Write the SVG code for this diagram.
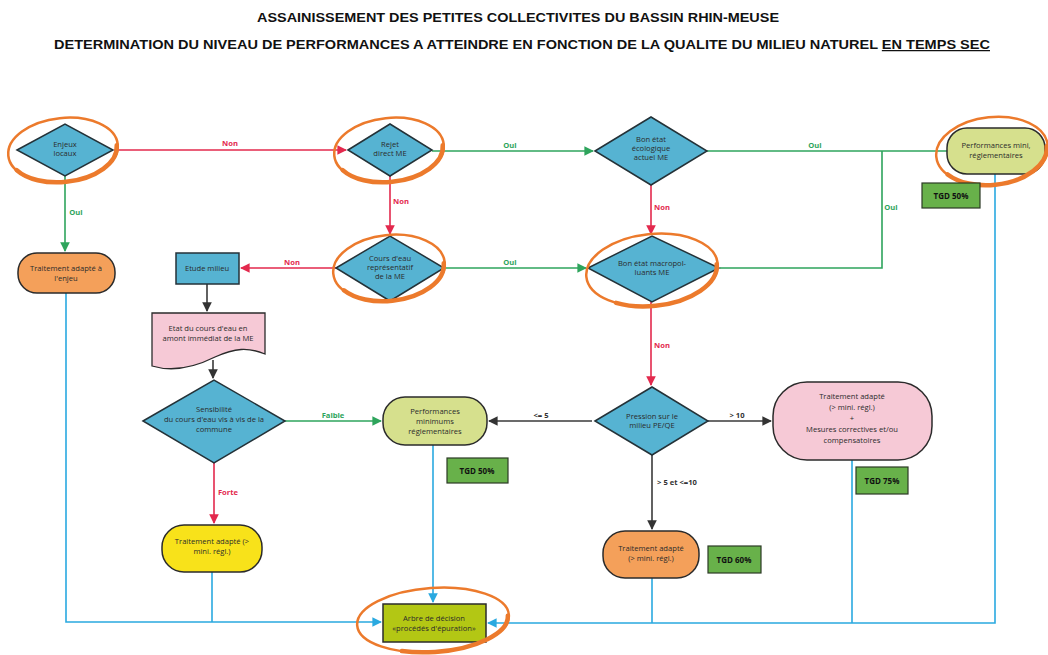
<svg xmlns="http://www.w3.org/2000/svg" width="1048" height="655" viewBox="0 0 1048 655">
<style>
.t{font-family:"Open Sans","Liberation Sans",sans-serif;font-size:7.6px;fill:#2b2b2b;text-anchor:middle}
.title{font-family:"Liberation Sans",Arial,sans-serif;font-weight:bold;font-size:12.5px;fill:#111;text-anchor:middle}
.lb{font-family:"Open Sans","Liberation Sans",sans-serif;font-size:7.6px;font-weight:bold;text-anchor:middle}
.dia{fill:#56b3d2;stroke:#243238;stroke-width:1.5}
.sw{fill:none;stroke:#ec7a2c;stroke-linecap:round;stroke-width:2.5}
.swt{fill:none;stroke:#ec7a2c;stroke-linecap:round;stroke-width:4.5;stroke-dasharray:120 400}
.red{stroke:#e3294d;stroke-width:1.6;fill:none}
.grn{stroke:#2ea45c;stroke-width:1.6;fill:none}
.gry{stroke:#3a3a3a;stroke-width:1.6;fill:none}
.blu{stroke:#2aa9e0;stroke-width:1.6;fill:none}
.tgd{fill:#68b14a;stroke:#2c3a25;stroke-width:1.2}
.tg{font-family:"Open Sans","Liberation Sans",sans-serif;font-size:8px;font-weight:bold;fill:#111;text-anchor:middle}
</style>
<defs>
<marker id="ar" viewBox="0 0 10 10" refX="9" refY="5" markerWidth="6" markerHeight="6" orient="auto"><path d="M0,0L10,5L0,10z" fill="#e3294d"/></marker>
<marker id="ag" viewBox="0 0 10 10" refX="9" refY="5" markerWidth="6" markerHeight="6" orient="auto"><path d="M0,0L10,5L0,10z" fill="#2ea45c"/></marker>
<marker id="ak" viewBox="0 0 10 10" refX="9" refY="5" markerWidth="6" markerHeight="6" orient="auto"><path d="M0,0L10,5L0,10z" fill="#333"/></marker>
<marker id="ab" viewBox="0 0 10 10" refX="9" refY="5" markerWidth="6" markerHeight="6" orient="auto"><path d="M0,0L10,5L0,10z" fill="#2aa9e0"/></marker>
</defs>
<rect width="1048" height="655" fill="#fff"/>
<text class="title" x="518" y="22" textLength="522" lengthAdjust="spacingAndGlyphs">ASSAINISSEMENT DES PETITES COLLECTIVITES DU BASSIN RHIN-MEUSE</text>
<text class="title" x="522" y="49" textLength="936" lengthAdjust="spacingAndGlyphs">DETERMINATION DU NIVEAU DE PERFORMANCES A ATTEINDRE EN FONCTION DE LA QUALITE DU MILIEU NATUREL <tspan text-decoration="underline">EN TEMPS SEC</tspan></text>

<g id="connectors">
<line class="red" x1="114" y1="150" x2="346" y2="150" marker-end="url(#ar)"/>
<text class="lb" x="230" y="146" fill="#e3294d">Non</text>
<line class="red" x1="390" y1="176" x2="390" y2="234" marker-end="url(#ar)"/>
<text class="lb" x="401" y="204" fill="#e3294d">Non</text>
<line class="red" x1="336" y1="268" x2="241" y2="268" marker-end="url(#ar)"/>
<text class="lb" x="292" y="265" fill="#e3294d">Non</text>
<line class="red" x1="651" y1="185" x2="651" y2="234" marker-end="url(#ar)"/>
<text class="lb" x="662" y="210" fill="#e3294d">Non</text>
<line class="red" x1="651" y1="302" x2="651" y2="385" marker-end="url(#ar)"/>
<text class="lb" x="662" y="348" fill="#e3294d">Non</text>
<line class="red" x1="214" y1="463" x2="214" y2="523" marker-end="url(#ar)"/>
<text class="lb" x="228" y="495" fill="#e3294d">Forte</text>
<line class="grn" x1="65" y1="176" x2="65" y2="251" marker-end="url(#ag)"/>
<text class="lb" x="76" y="215" fill="#2ea45c">Oui</text>
<line class="grn" x1="432" y1="151" x2="593" y2="151" marker-end="url(#ag)"/>
<text class="lb" x="510" y="148" fill="#2ea45c">Oui</text>
<line class="grn" x1="707" y1="151" x2="947" y2="151"/>
<text class="lb" x="815" y="148" fill="#2ea45c">Oui</text>
<polyline class="grn" points="720,268 882,268 882,151"/>
<text class="lb" x="891" y="210" fill="#2ea45c">Oui</text>
<line class="grn" x1="444" y1="268" x2="586" y2="268" marker-end="url(#ag)"/>
<text class="lb" x="510" y="265" fill="#2ea45c">Oui</text>
<line class="grn" x1="285" y1="421" x2="381" y2="421" marker-end="url(#ag)"/>
<text class="lb" x="333" y="418" fill="#2ea45c">Faible</text>
<line class="gry" x1="207" y1="284" x2="207" y2="311" marker-end="url(#ak)"/>
<line class="gry" x1="213" y1="360" x2="213" y2="378" marker-end="url(#ak)"/>
<line class="gry" x1="592" y1="421" x2="489" y2="421" marker-end="url(#ak)"/>
<text class="lb" x="541" y="418" fill="#333">&lt;= 5</text>
<line class="gry" x1="708" y1="421" x2="771" y2="421" marker-end="url(#ak)"/>
<text class="lb" x="737" y="418" fill="#333">&gt; 10</text>
<line class="gry" x1="652" y1="455" x2="652" y2="529" marker-end="url(#ak)"/>
<text class="lb" x="677" y="485" fill="#333">&gt; 5 et &lt;=10</text>
<polyline class="blu" points="66,293 66,622 381,622" marker-end="url(#ab)"/>
<line class="blu" x1="212" y1="572" x2="212" y2="622"/>
<line class="blu" x1="433" y1="445" x2="433" y2="602" marker-end="url(#ab)"/>
<polyline class="blu" points="995,174 995,623 488,623" marker-end="url(#ab)"/>
<line class="blu" x1="852" y1="460" x2="852" y2="623"/>
<line class="blu" x1="652" y1="578" x2="652" y2="623"/>
</g>

<g id="n-enjeux">
<path class="dia" d="M17,150L65,124L113,150L65,176Z"/>
<text class="t" x="65" y="147">Enjeux</text><text class="t" x="65" y="156">locaux</text>
<ellipse class="sw" cx="63" cy="150" rx="55" ry="32" transform="rotate(-6 63 150)"/>
<ellipse class="swt" cx="63" cy="151" rx="54" ry="31" transform="rotate(-6 63 151)"/>
</g>
<g id="n-rejet">
<path class="dia" d="M348,150L390,124L432,150L390,176Z"/>
<text class="t" x="390" y="147">Rejet</text><text class="t" x="390" y="156">direct ME</text>
<ellipse class="sw" cx="389" cy="150" rx="55" ry="32" transform="rotate(-6 389 150)"/>
<ellipse class="swt" cx="389" cy="151" rx="54" ry="31" transform="rotate(-6 389 151)"/>
</g>
<g id="n-bonetat">
<path class="dia" d="M595,151L651,117L707,151L651,185Z"/>
<text class="t" x="651" y="142">Bon état</text><text class="t" x="651" y="151">écologique</text><text class="t" x="651" y="160">actuel ME</text>
</g>
<g id="n-cours">
<path class="dia" d="M336,268L390,236L444,268L390,301Z"/>
<text class="t" x="390" y="261">Cours d'eau</text><text class="t" x="390" y="270">représentatif</text><text class="t" x="390" y="279">de la ME</text>
<ellipse class="sw" cx="389" cy="268" rx="56" ry="33" transform="rotate(-6 389 268)"/>
<ellipse class="swt" cx="389" cy="269" rx="55" ry="32" transform="rotate(-6 389 269)"/>
</g>
<g id="n-macro">
<path class="dia" d="M588,268L652,236L719,268L652,302Z"/>
<text class="t" x="652" y="266">Bon état macropol-</text><text class="t" x="652" y="275">luants ME</text>
<ellipse class="sw" cx="652" cy="270" rx="66" ry="36" transform="rotate(-6 652 270)"/>
<ellipse class="swt" cx="652" cy="271" rx="65" ry="35" transform="rotate(-6 652 271)"/>
</g>
<g id="n-perfmini">
<rect x="947" y="128" width="98" height="46" rx="20" fill="#d6e08d" stroke="#2b2b2b" stroke-width="1.5"/>
<text class="t" x="996" y="148">Performances mini,</text><text class="t" x="996" y="158">réglementaires</text>
<ellipse class="sw" cx="992" cy="151" rx="56" ry="34" transform="rotate(-6 992 151)"/>
<ellipse class="swt" cx="992" cy="152" rx="55" ry="33" transform="rotate(-6 992 152)"/>
</g>
<g id="n-tgd50a">
<rect class="tgd" x="922" y="183" width="58" height="25"/>
<text class="tg" x="951" y="199">TGD 50%</text>
</g>
<g id="n-enjeutrait">
<rect x="18" y="253" width="97" height="40" rx="19" fill="#f4a05a" stroke="#2b2b2b" stroke-width="1.5"/>
<text class="t" x="66" y="271">Traitement adapté à</text><text class="t" x="66" y="281">l'enjeu</text>
</g>
<g id="n-etude">
<rect x="176" y="253" width="63" height="31" fill="#56b3d2" stroke="#243238" stroke-width="1.5"/>
<text class="t" x="207" y="271">Etude milieu</text>
</g>
<g id="n-etat">
<path d="M152,313H265V354C248,347 235,348 215,357C195,367 172,372 152,366Z" fill="#f6c9d6" stroke="#2b2b2b" stroke-width="1.3"/>
<text class="t" x="208" y="331">Etat du cours d'eau en</text><text class="t" x="208" y="341">amont immédiat de la ME</text>
</g>
<g id="n-sensib">
<path class="dia" d="M143,421L214,380L285,421L214,463Z"/>
<text class="t" x="214" y="412">Sensibilité</text><text class="t" x="214" y="422">du cours d'eau vis à vis de la</text><text class="t" x="214" y="432">commune</text>
</g>
<g id="n-perfmin">
<rect x="383" y="397" width="104" height="48" rx="22" fill="#d6e08d" stroke="#2b2b2b" stroke-width="1.5"/>
<text class="t" x="435" y="414">Performances</text><text class="t" x="435" y="424">minimums</text><text class="t" x="435" y="434">réglementaires</text>
</g>
<g id="n-tgd50b">
<rect class="tgd" x="447" y="458" width="61" height="25"/>
<text class="tg" x="477" y="474">TGD 50%</text>
</g>
<g id="n-pression">
<path class="dia" d="M595,421L652,387L708,421L652,455Z"/>
<text class="t" x="652" y="419">Pression sur le</text><text class="t" x="652" y="428">milieu PE/QE</text>
</g>
<g id="n-pink">
<rect x="773" y="382" width="159" height="78" rx="34" fill="#f6c9d6" stroke="#2b2b2b" stroke-width="1.5"/>
<text class="t" x="852" y="399">Traitement adapté</text><text class="t" x="852" y="410">(&gt; mini. régl.)</text><text class="t" x="852" y="421">+</text><text class="t" x="852" y="432">Mesures correctives et/ou</text><text class="t" x="852" y="443">compensatoires</text>
</g>
<g id="n-tgd75">
<rect class="tgd" x="856" y="467" width="52" height="27"/>
<text class="tg" x="882" y="484">TGD 75%</text>
</g>
<g id="n-orange">
<rect x="603" y="531" width="96" height="47" rx="22" fill="#f4a05a" stroke="#2b2b2b" stroke-width="1.5"/>
<text class="t" x="651" y="551">Traitement adapté</text><text class="t" x="651" y="561">(&gt; mini. régl.)</text>
</g>
<g id="n-tgd60">
<rect class="tgd" x="708" y="546" width="53" height="27"/>
<text class="tg" x="734" y="563">TGD 60%</text>
</g>
<g id="n-yellow">
<rect x="162" y="525" width="100" height="47" rx="22" fill="#f8e21a" stroke="#2b2b2b" stroke-width="1.5"/>
<text class="t" x="212" y="544">Traitement adapté (&gt;</text><text class="t" x="212" y="554">mini. régl.)</text>
</g>
<g id="n-arbre">
<rect x="383" y="604" width="103" height="38" fill="#b3c714" stroke="#2b2b2b" stroke-width="1.5"/>
<text class="t" x="434" y="621">Arbre de décision</text><text class="t" x="434" y="631">«procédés d'épuration»</text>
<ellipse class="sw" cx="433" cy="620" rx="76" ry="32" transform="rotate(-4 433 620)"/>
<ellipse class="swt" cx="433" cy="621" rx="75" ry="31" transform="rotate(-4 433 621)"/>
</g>
</svg>
